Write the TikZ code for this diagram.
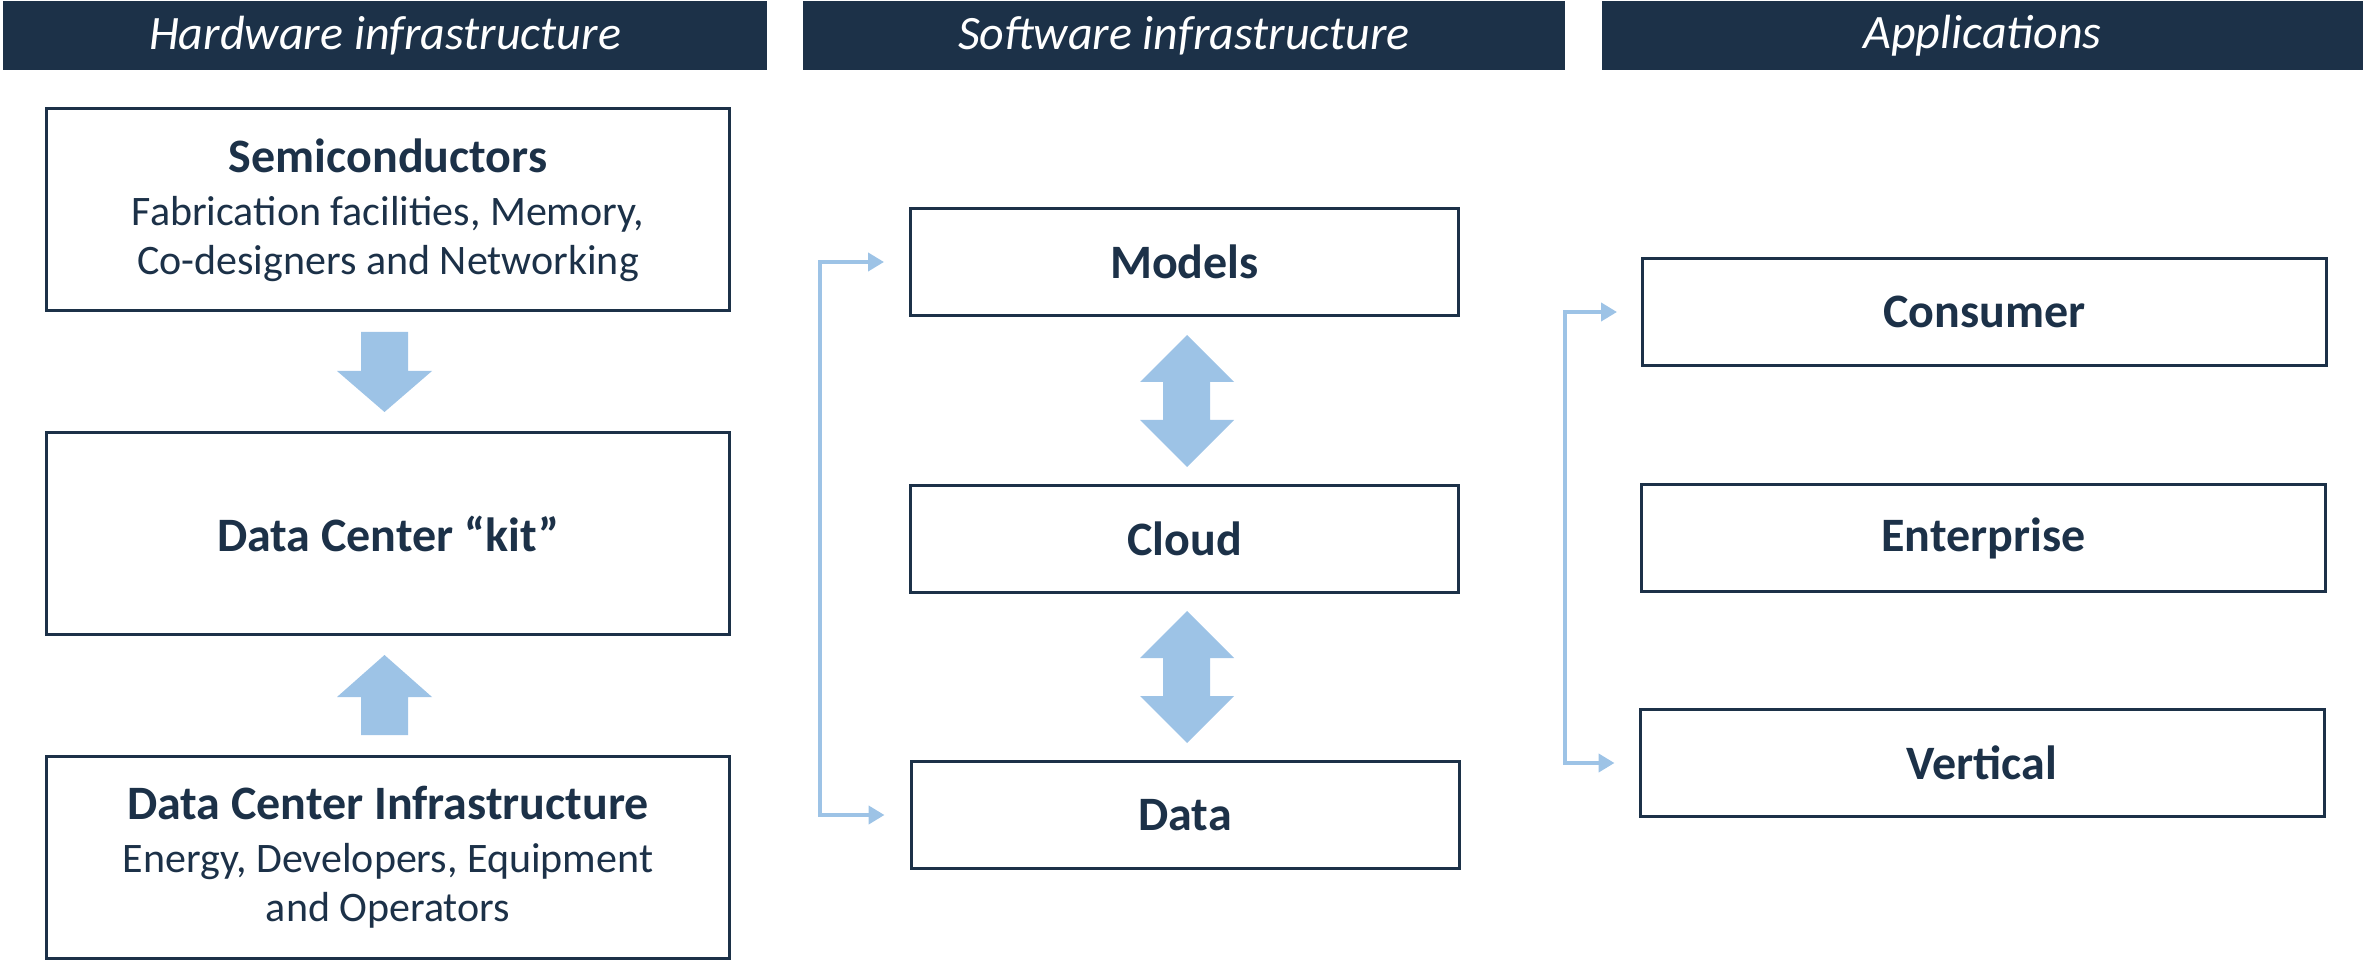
\documentclass[tikz,border=0pt]{standalone}
\usepackage{fontspec}
\setmainfont{Carlito}
\usetikzlibrary{arrows.meta}

\definecolor{navy}{HTML}{1C3148}
\definecolor{skyblue}{HTML}{9DC3E6}

\begin{document}
\begin{tikzpicture}[x=0.5pt, y=-0.5pt,
  header/.style={fill=navy, draw=none, text=white, inner sep=0pt,
    font=\fontsize{24}{28}\selectfont\itshape},
  box/.style={draw=navy, line width=1.5pt, fill=white, inner sep=0pt,
    text=navy, align=center, font=\fontsize{21}{24.5}\selectfont},
  hwbox/.style={box, minimum width=341.5pt, minimum height=101pt},
  swbox/.style={box, minimum width=274pt, minimum height=53.5pt,
    font=\fontsize{24}{28}\selectfont\bfseries},
  appbox/.style={box, minimum width=342pt, minimum height=53.5pt,
    font=\fontsize{24}{28}\selectfont\bfseries},
  blockarrow/.style={fill=skyblue, draw=none},
  conn/.style={draw=skyblue, line width=2pt,
    {Triangle[length=8pt, width=9pt]}-{Triangle[length=8pt, width=9pt]}}
]
\useasboundingbox (0,0) rectangle (2364,961);

% column headers
\node[header, minimum width=382pt, minimum height=34.5pt] (hhw) at (385,35.5) {Hardware infrastructure};
\node[header, minimum width=381pt, minimum height=34.5pt] (hsw) at (1184,35.5) {Software infrastructure};
\node[header, minimum width=380.5pt, minimum height=34.5pt] (hap) at (1982.5,35.5) {Applications};

% hardware column
\node[hwbox] (semi) at (388,210) {{\fontsize{24}{28}\selectfont\bfseries Semiconductors}\\[2pt]
  Fabrication facilities, Memory,\\ Co-designers and Networking};
\node[hwbox] (kit) at (388,533.5) {\fontsize{24}{28}\selectfont\bfseries Data Center “kit”};
\node[hwbox] (dci) at (388,857) {{\fontsize{24}{28}\selectfont\bfseries Data Center Infrastructure}\\[2pt]
  Energy, Developers, Equipment\\ and Operators};

% block arrows feeding the data center kit
\fill[blockarrow] (361,332) -- (408,332) -- (408,371) -- (432,371) -- (384.5,412)
  -- (337,371) -- (361,371) -- cycle;
\fill[blockarrow] (384.5,655) -- (432,697) -- (408,697) -- (408,735) -- (361,735)
  -- (361,697) -- (337,697) -- cycle;

% software column
\node[swbox] (models) at (1184.5,262) {Models};
\node[swbox] (cloud) at (1184.5,539) {Cloud};
\node[swbox] (data) at (1185,815) {Data};

% two-way block arrows between software layers
\foreach \t in {335,611}{
  \fill[blockarrow] (1187,\t) -- (1234,\t+47) -- (1210,\t+47) -- (1210,\t+85)
    -- (1234,\t+85) -- (1187,\t+132) -- (1140,\t+85) -- (1163,\t+85)
    -- (1163,\t+47) -- (1140,\t+47) -- cycle;
}

% models <-> data link
\draw[conn, shorten <=12.5pt, shorten >=12.5pt] (models.west) -- ++(-89,0) |- (data.west);

% applications column
\node[appbox] (consumer) at (1984.5,312) {Consumer};
\node[appbox] (enterprise) at (1983.5,538) {Enterprise};
\node[appbox] (vertical) at (1982,763) {Vertical};

% consumer <-> vertical link
\draw[conn, shorten <=12pt, shorten >=12pt] (consumer.west) -- ++(-76,0) |- (vertical.west);
\end{tikzpicture}
\end{document}
